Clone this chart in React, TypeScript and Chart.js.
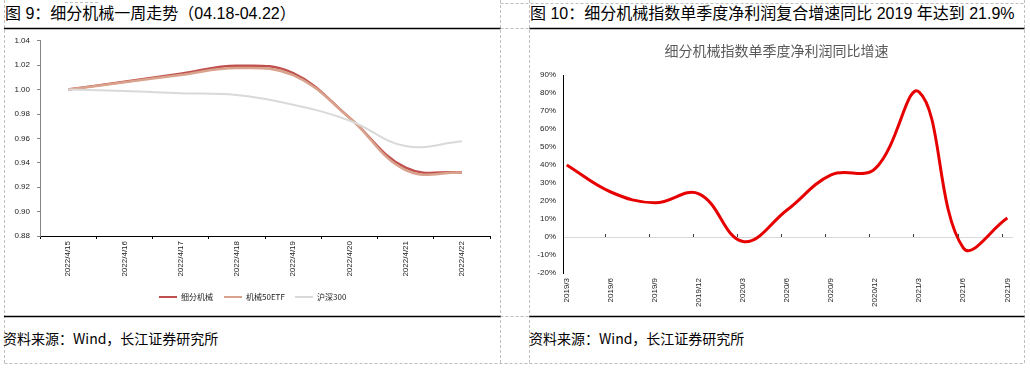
import React, { useEffect, useRef } from "react";
import { Chart, registerables } from "chart.js";

Chart.register(...registerables);

// ---------- Left chart data (图 9) ----------
const weekLabels = ["2022/4/15", "2022/4/16", "2022/4/17", "2022/4/18", "2022/4/19", "2022/4/20", "2022/4/21", "2022/4/22"];
const machineryIndex = [1.0, 1.0065, 1.013, 1.0195, 1.0135, 0.977, 0.936, 0.932];
const machineryETF = [1.0, 1.006, 1.012, 1.0177, 1.0118, 0.977, 0.934, 0.932];
const hs300 = [1.0, 0.9989, 0.997, 0.9955, 0.9876, 0.9747, 0.9537, 0.9577];
const leftSeriesNames = ["细分机械", "机械50ETF", "沪深300"];
const leftColors = ["#C0504D", "#D9A28C", "#D9D9D9"];
const leftYTicks = { min: 0.88, max: 1.04, step: 0.02 };

// ---------- Right chart data (图 10) ----------
const quarterLabels = ["2019/3", "2019/6", "2019/9", "2019/12", "2020/3", "2020/6", "2020/9", "2020/12", "2021/3", "2021/6", "2021/9"];
const profitGrowth = [40, 25, 19, 24, -2.5, 15, 34.5, 38, 80.5, -6, 10.5];
const rightYTicks = { min: -20, max: 90, step: 10 };

const TICK_FONT = "'Liberation Sans', Arial, sans-serif";
const CJK_FONT = "'Noto Sans CJK SC', 'Noto Sans', sans-serif";
const TITLE_FONT = "'Liberation Sans', Arial, 'Noto Sans CJK SC', sans-serif";

function LeftChart() {
  const ref = useRef<HTMLCanvasElement>(null);
  useEffect(() => {
    const series = [machineryIndex, machineryETF, hs300];
    const chart = new Chart(ref.current!, {
      type: "line",
      data: {
        labels: weekLabels,
        datasets: series.map((d, i) => ({
          label: leftSeriesNames[i],
          data: d,
          borderColor: leftColors[i],
          borderWidth: i === 2 ? 2 : 2.5,
          pointRadius: 0,
          tension: 0.4,
          fill: false,
          order: 3 - i,
        })),
      },
      options: {
        responsive: false,
        animation: false,
        layout: { padding: { top: 8, left: 0, right: 10, bottom: 0 } },
        plugins: { legend: { display: false }, tooltip: { enabled: false } },
        scales: {
          x: {
            type: "category",
            offset: true,
            grid: { drawOnChartArea: false, drawTicks: true, tickLength: 3, offset: true, color: "#000" },
            border: { color: "#000", width: 1 },
            ticks: { font: { size: 8, family: TICK_FONT }, color: "#222", maxRotation: 90, minRotation: 90, padding: 2, autoSkip: false },
            afterFit: (s: any) => { s.height = 80; },
          },
          y: {
            min: leftYTicks.min,
            max: leftYTicks.max,
            grid: { drawOnChartArea: false, drawTicks: true, tickLength: 3, color: "#868686" },
            border: { color: "#868686", width: 1 },
            ticks: {
              stepSize: leftYTicks.step,
              font: { size: 8, family: TICK_FONT },
              color: "#222",
              padding: 7,
              callback: (v: any) => Number(v).toFixed(2),
            },
            afterFit: (s: any) => { s.width = 36; },
          },
        },
      },
    });
    return () => chart.destroy();
  }, []);
  return <canvas ref={ref} width={496} height={287} style={{ position: "absolute", left: 4, top: 29 }} />;
}

function RightChart() {
  const ref = useRef<HTMLCanvasElement>(null);
  useEffect(() => {
    const zeroTicks = {
      id: "zeroTicks",
      afterDraw(chart: any) {
        const { ctx, scales } = chart;
        const y0 = scales.y.getPixelForValue(0);
        ctx.save();
        ctx.strokeStyle = "#404040";
        ctx.lineWidth = 1;
        for (let k = 1; k < quarterLabels.length; k++) {
          const px = Math.round(scales.x.getPixelForValue(k - 0.13)) + 0.5;
          ctx.beginPath();
          ctx.moveTo(px, y0 - 3);
          ctx.lineTo(px, y0);
          ctx.stroke();
        }
        ctx.restore();
      },
    };
    const chart = new Chart(ref.current!, {
      type: "line",
      data: {
        datasets: [
          {
            label: "细分机械指数单季度净利润同比增速",
            data: profitGrowth.map((v, i) => ({ x: i, y: v })),
            borderColor: "#E60000",
            borderWidth: 3,
            pointRadius: 0,
            tension: 0.4,
            fill: false,
          },
        ],
      },
      options: {
        responsive: false,
        animation: false,
        layout: { padding: { top: 46, left: 0, right: 11, bottom: 0 } },
        plugins: { legend: { display: false }, tooltip: { enabled: false } },
        scales: {
          x: {
            type: "linear",
            min: -0.084,
            max: 10.129,
            grid: { display: false, drawTicks: false },
            border: { display: false },
            ticks: {
              stepSize: 1,
              includeBounds: false,
              autoSkip: false,
              maxRotation: 90,
              minRotation: 90,
              padding: 5,
              font: { size: 8, family: TICK_FONT },
              color: "#222",
              callback: (v: any) => (Number.isInteger(v) && quarterLabels[v] !== undefined ? quarterLabels[v] : ""),
            },
            afterFit: (s: any) => { s.height = 43; },
          },
          y: {
            min: rightYTicks.min,
            max: rightYTicks.max,
            grid: {
              drawTicks: false,
              color: (c: any) => (c.tick && c.tick.value === 0 ? "#D9D9D9" : "rgba(0,0,0,0)"),
            },
            border: { color: "#000", width: 1 },
            ticks: {
              stepSize: rightYTicks.step,
              font: { size: 8, family: TICK_FONT },
              color: "#222",
              padding: 7,
              callback: (v: any) => `${v}%`,
            },
            afterFit: (s: any) => { s.width = 34; },
          },
        },
      },
      plugins: [zeroTicks],
    });
    return () => chart.destroy();
  }, []);
  return <canvas ref={ref} width={495} height={287} style={{ position: "absolute", left: 529, top: 29 }} />;
}

function LegendItem({ left, color, text }: { left: number; color: string; text: string }) {
  return (
    <div style={{ position: "absolute", left, top: 291, height: 12, display: "flex", alignItems: "center", whiteSpace: "nowrap" }}>
      <span style={{ display: "inline-block", width: 18, height: 2, background: color, marginRight: 4 }} />
      <span style={{ fontFamily: CJK_FONT, fontSize: 8, color: "#222", lineHeight: "12px" }}>{text}</span>
    </div>
  );
}

export default function App() {
  useEffect(() => {
    document.body.style.margin = "0";
  }, []);
  const dash = { stroke: "#BFBFBF", strokeWidth: 1, strokeDasharray: "3 2" };
  const titleStyle: React.CSSProperties = { position: "absolute", top: 5, fontFamily: TITLE_FONT, fontSize: 16, lineHeight: "18px", color: "#000", whiteSpace: "nowrap" };
  return (
    <div style={{ position: "absolute", left: 0, top: 0, width: 1030, height: 368, background: "#fff", overflow: "hidden" }}>
      <svg width={1030} height={368} style={{ position: "absolute", left: 0, top: 0 }}>
        <line x1={4.5} y1={0} x2={4.5} y2={364} {...dash} />
        <line x1={500.5} y1={0} x2={500.5} y2={364} {...dash} />
        <line x1={529.5} y1={0} x2={529.5} y2={364} {...dash} />
        <line x1={1024.5} y1={0} x2={1024.5} y2={364} {...dash} />
        <line x1={500.5} y1={3.5} x2={1024.5} y2={3.5} {...dash} />
        <line x1={65} y1={2.5} x2={100} y2={2.5} {...dash} />
        <line x1={500.5} y1={28.5} x2={529.5} y2={28.5} {...dash} />
        <line x1={500.5} y1={316.5} x2={529.5} y2={316.5} {...dash} />
        <line x1={4.5} y1={363.5} x2={1024.5} y2={363.5} {...dash} />
        <line x1={4} y1={28.5} x2={500.5} y2={28.5} stroke="#000" strokeWidth={1.5} />
        <line x1={529.5} y1={28.5} x2={1024.5} y2={28.5} stroke="#000" strokeWidth={1.5} />
        <line x1={4} y1={316.5} x2={500.5} y2={316.5} stroke="#000" strokeWidth={1.5} />
        <line x1={529.5} y1={316.5} x2={1024.5} y2={316.5} stroke="#000" strokeWidth={1.5} />
      </svg>

      <div style={{ ...titleStyle, left: 5 }}>图 9：细分机械一周走势（04.18-04.22）</div>
      <div style={{ ...titleStyle, left: 530 }}>图 10：细分机械指数单季度净利润复合增速同比 2019 年达到 21.9%</div>

      <LeftChart />
      <RightChart />

      <LegendItem left={159} color={leftColors[0]} text={leftSeriesNames[0]} />
      <LegendItem left={224} color={leftColors[1]} text={leftSeriesNames[1]} />
      <LegendItem left={295} color={leftColors[2]} text={leftSeriesNames[2]} />

      <div style={{ position: "absolute", left: 529, width: 495, top: 41, textAlign: "center", fontFamily: CJK_FONT, fontSize: 14, lineHeight: "18px", color: "#595959", whiteSpace: "nowrap" }}>
        细分机械指数单季度净利润同比增速
      </div>

      <div style={{ position: "absolute", left: 3, top: 329, fontFamily: CJK_FONT, fontSize: 14, lineHeight: "18px", color: "#000", whiteSpace: "nowrap" }}>
        资料来源：Wind，长江证券研究所
      </div>
      <div style={{ position: "absolute", left: 529, top: 329, fontFamily: CJK_FONT, fontSize: 14, lineHeight: "18px", color: "#000", whiteSpace: "nowrap" }}>
        资料来源：Wind，长江证券研究所
      </div>
    </div>
  );
}
